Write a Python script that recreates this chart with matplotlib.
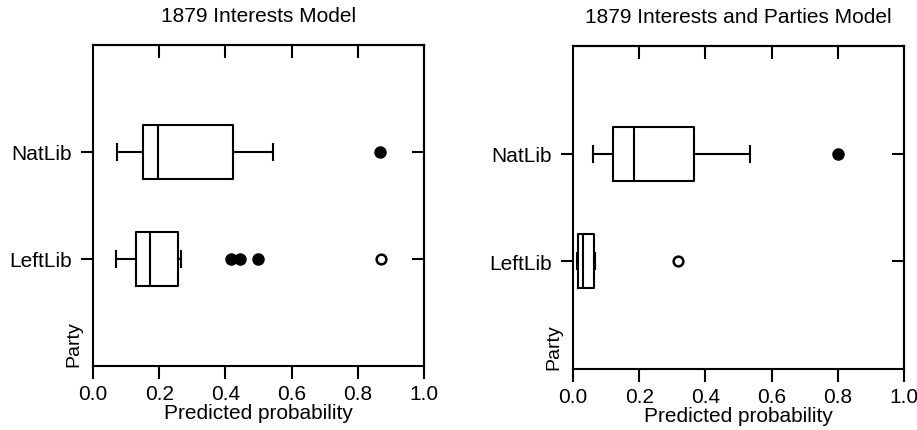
import matplotlib
matplotlib.use("Agg")
import matplotlib.pyplot as plt

plt.rcParams['font.family'] = ['Liberation Sans', 'DejaVu Sans']

# categories (bottom to top)
parties = ["LeftLib", "NatLib"]
titles = ["1879 Interests Model", "1879 Interests and Parties Model"]

# box statistics per panel, per party (LeftLib, NatLib)
whislo = [[0.069, 0.073], [0.011, 0.061]]
q1 = [[0.130, 0.152], [0.016, 0.120]]
med = [[0.172, 0.197], [0.031, 0.185]]
q3 = [[0.258, 0.424], [0.064, 0.365]]
whishi = [[0.266, 0.544], [0.067, 0.535]]

# outside values (filled) and far outside values (open)
out_filled = [[[0.416, 0.444, 0.499], [0.867]], [[], [0.800]]]
out_open = [[[0.869], []], [[0.316], []]]

xticks = [0.0, 0.2, 0.4, 0.6, 0.8, 1.0]

fig = plt.figure(figsize=(9.17, 4.31), dpi=100)
rects = [[0.1014, 0.1485, 0.361, 0.7448], [0.6249, 0.1415, 0.361, 0.7494]]
lw = 1.5

for p in range(2):
    ax = fig.add_axes(rects[p])
    stats = []
    for i in range(len(parties)):
        stats.append(dict(whislo=whislo[p][i], q1=q1[p][i], med=med[p][i],
                          q3=q3[p][i], whishi=whishi[p][i], fliers=[]))
    lp = dict(color="black", linewidth=lw)
    ax.bxp(stats, positions=[1, 2], widths=0.5, vert=False,
           showfliers=False, capwidths=0.15,
           boxprops=lp, medianprops=lp, whiskerprops=lp, capprops=lp)
    for i in range(len(parties)):
        if out_filled[p][i]:
            ax.plot(out_filled[p][i], [i + 1] * len(out_filled[p][i]), "o",
                    color="black", markersize=8)
        if out_open[p][i]:
            ax.plot(out_open[p][i], [i + 1] * len(out_open[p][i]), "o",
                    markerfacecolor="white", markeredgecolor="black",
                    markeredgewidth=1.8, markersize=7)

    ax.set_xlim(0, 1)
    ax.set_ylim(0, 3)
    ax.set_xticks(xticks)
    ax.set_xticklabels([f"{v:.1f}" for v in xticks])
    ax.set_yticks([1, 2])
    ax.set_yticklabels(parties)
    ax.tick_params(axis="both", which="major", length=9, width=lw,
                   labelsize=15, color="black")
    ax.tick_params(axis="x", direction="out", pad=4)
    ax.tick_params(axis="y", direction="out", pad=6)
    # inward ticks on top and right, as in the original
    top = ax.secondary_xaxis("top")
    top.set_xticks(xticks[1:-1])
    top.tick_params(direction="in", length=9, width=lw, labeltop=False)
    right = ax.secondary_yaxis("right")
    right.set_yticks([1, 2])
    right.tick_params(direction="in", length=9, width=lw, labelright=False)
    for sp in list(ax.spines.values()) + [top.spines["top"], right.spines["right"]]:
        sp.set_linewidth(lw)

    ax.set_xlabel("Predicted probability", fontsize=15, labelpad=0)
    ax.set_ylabel("Party", fontsize=14, loc="bottom")
    ax.yaxis.set_label_coords(-0.033, 0.0)
    ax.set_title(titles[p], fontsize=15, pad=17)

fig.savefig("out.png", dpi=100)
